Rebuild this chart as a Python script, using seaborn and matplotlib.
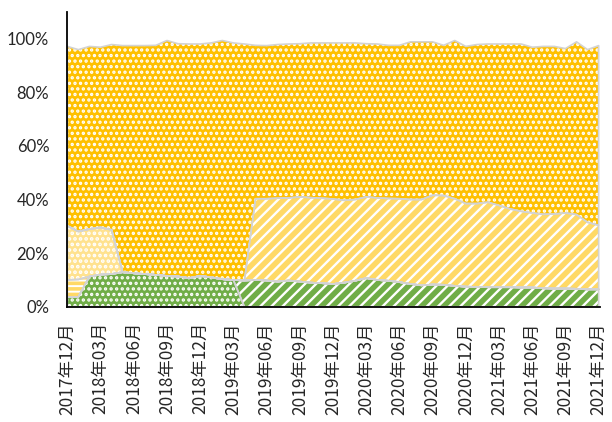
import numpy as np
import pandas as pd
import matplotlib
matplotlib.use('Agg')
import matplotlib.pyplot as plt
import seaborn as sns

# monthly categories, Dec 2017 .. Dec 2021
months = pd.date_range('2017-12-01', periods=49, freq='MS')
month_labels = [f'{d.year}年{d.month:02d}月' for d in months]

# stacked shares in % (bottom -> top)
green_dots = [3.7, 3.7, 11.3, 12.0, 12.2, 12.9, 12.5, 12.2, 11.9, 11.5, 11.3, 10.7, 11.5, 11.0, 10.3, 10.0,
              0, 0, 0, 0, 0, 0, 0, 0, 0, 0, 0, 0, 0, 0, 0, 0, 0,
              0, 0, 0, 0, 0, 0, 0, 0, 0, 0, 0, 0, 0, 0, 0, 0]
green_stripes = [0, 0, 0, 0, 0, 0, 0, 0, 0, 0, 0, 0, 0, 0, 0, 0,
                 9.8, 10.0, 9.8, 9.4, 9.8, 9.4, 9.0, 8.8, 8.5, 9.0, 9.7, 10.7, 10.0, 9.7, 9.2, 8.5, 8.0,
                 8.3, 8.2, 7.8, 7.5, 7.4, 7.3, 7.3, 7.3, 7.2, 7.2, 6.9, 6.8, 6.8, 6.7, 6.5, 6.5]
yellow_hlines = [6.3, 6.5, 0, 0, 0, 0, 0, 0, 0, 0, 0, 0, 0, 0, 0, 0,
                 0, 0, 0, 0, 0, 0, 0, 0, 0, 0, 0, 0, 0, 0, 0, 0, 0,
                 0, 0, 0, 0, 0, 0, 0, 0, 0, 0, 0, 0, 0, 0, 0, 0]
yellow_dots = [20.2, 17.9, 17.7, 17.6, 16.5, 0, 0, 0, 0, 0, 0, 0, 0, 0, 0, 0,
               0, 0, 0, 0, 0, 0, 0, 0, 0, 0, 0, 0, 0, 0, 0, 0, 0,
               0, 0, 0, 0, 0, 0, 0, 0, 0, 0, 0, 0, 0, 0, 0, 0]
yellow_stripes = [0, 0, 0, 0, 0, 0, 0, 0, 0, 0, 0, 0, 0, 0, 0, 0,
                  0, 30.3, 30.5, 31.1, 30.8, 31.6, 31.7, 31.7, 31.7, 30.7, 30.3, 30.3, 30.6, 30.7, 31.1, 31.5, 32.0,
                  33.3, 33.3, 32.5, 31.0, 31.1, 31.7, 30.5, 29.2, 28.4, 27.8, 27.6, 27.8, 28.2, 27.7, 25.0, 23.9]
orange_dots = [66.9, 67.8, 68.1, 67.2, 69.1, 84.5, 84.9, 85.2, 85.6, 87.8, 86.8, 87.3, 86.5, 87.4, 89.0, 88.4,
               88.2, 57.2, 57.1, 57.3, 57.4, 57.1, 57.7, 57.9, 58.2, 58.7, 58.4, 57.1, 57.4, 57.1, 57.2, 58.8, 58.8,
               57.2, 56.0, 59.0, 58.6, 59.3, 59.0, 60.2, 61.5, 62.4, 61.8, 62.6, 62.5, 61.3, 64.4, 64.4, 67.0]

series = [green_dots, green_stripes, yellow_hlines, yellow_dots, yellow_stripes, orange_dots]
colors = ['#70AD47', '#70AD47', '#FFD966', '#FFE28F', '#FFD966', '#FFC000']
hatches = ['...', '///', '---', '...', '///', '...']
hatch_widths = [1.6, 1.7, 1.4, 1.8, 1.7, 1.6]

sns.set_style('white')
plt.rcParams['font.family'] = ['Noto Sans CJK JP', 'DejaVu Sans']

fig = plt.figure(figsize=(6.12, 4.22), dpi=100)
ax = fig.add_axes([0.110, 0.273, 0.870, 0.699])

x = np.arange(len(month_labels))
values = np.array(series, dtype=float)
tops = values.cumsum(axis=0)
bottoms = np.vstack([np.zeros(len(x)), tops[:-1]])

# fills + white pattern
for lo, hi, color, hatch, hlw in zip(bottoms, tops, colors, hatches, hatch_widths):
    ax.fill_between(x, lo, hi, facecolor=color, edgecolor='none', lw=0)
    with plt.rc_context({'hatch.linewidth': hlw}):
        h = ax.fill_between(x, lo, hi, facecolor='none', edgecolor='white', lw=0, hatch=hatch)
    if hasattr(h, 'set_hatch_linewidth'):
        h.set_hatch_linewidth(hlw)

# light grey borders on top
for lo, hi in zip(bottoms, tops):
    ax.fill_between(x, lo, hi, facecolor='none', edgecolor='#D3D3D3', lw=1.2)

ax.set_xlim(0, 48.1)
ax.set_ylim(0, 110)
ax.set_yticks(range(0, 101, 20))
ax.set_yticklabels([f'{v}%' for v in range(0, 101, 20)], family=['Lato', 'DejaVu Sans'], fontsize=12)
ax.set_xticks(x[::3])
ax.set_xticklabels(month_labels[::3], rotation=90, fontsize=12.5)

ax.tick_params(axis='both', direction='in', length=5, width=1.2, color='black')
ax.tick_params(axis='y', pad=13)
ax.tick_params(axis='x', pad=11)
for side in ['top', 'right']:
    ax.spines[side].set_visible(False)
for side in ['left', 'bottom']:
    ax.spines[side].set_color('black')
    ax.spines[side].set_linewidth(1.3)
ax.grid(False)

fig.savefig('out.png', dpi=100)
